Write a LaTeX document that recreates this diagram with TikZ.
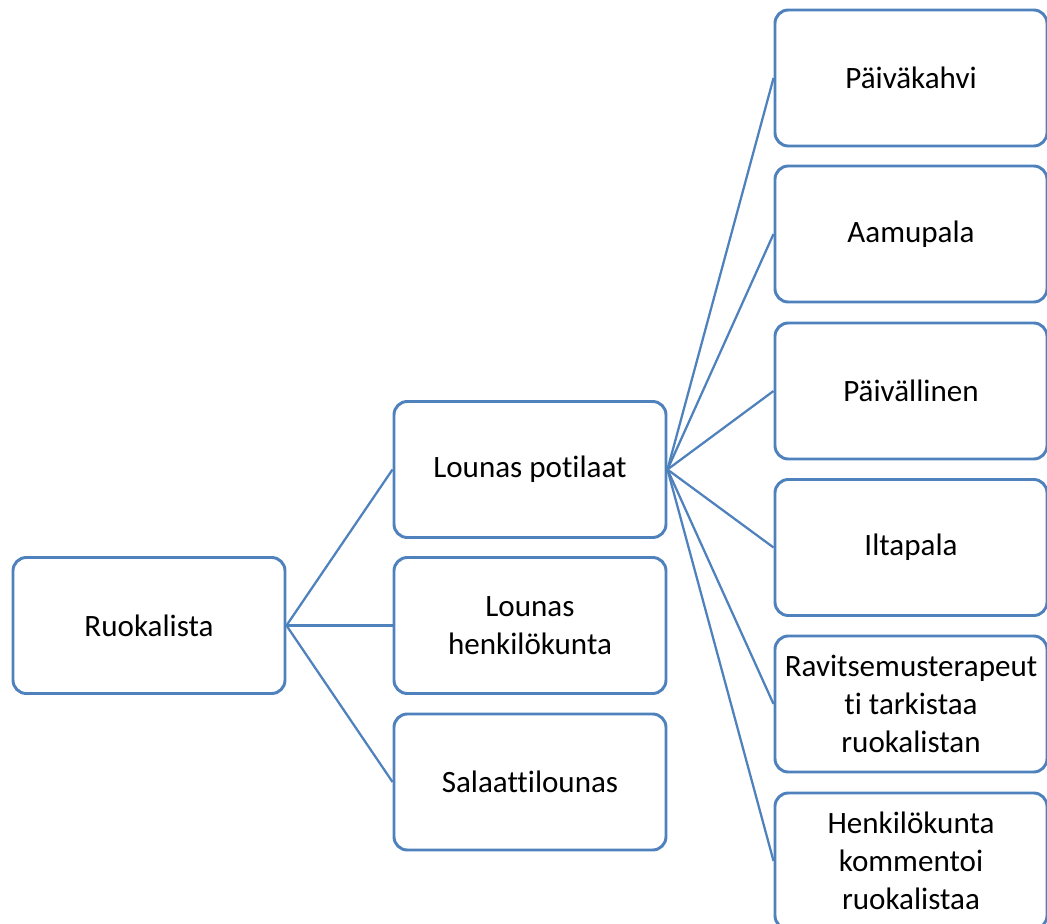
\documentclass[tikz,border=0pt]{standalone}
\usepackage{fontspec}
\setmainfont[Ligatures=NoCommon]{Carlito}
\definecolor{boxblue}{HTML}{4F81BD}
\begin{document}
\begin{tikzpicture}[x=0.75pt,y=-0.75pt,
  card/.style={draw=boxblue, line width=2.2pt, rounded corners=10pt, fill=white,
    minimum width=204pt, minimum height=102pt, inner sep=0pt, align=center,
    font=\fontsize{23.3}{28.5}\selectfont},
  link/.style={draw=boxblue, line width=1.7pt}]
\useasboundingbox (0,0) rectangle (1047,924);
% root
\node[card] (root) at (149,625.5) {Ruokalista};
% second level
\node[card] (lp) at (530,469.5) {Lounas potilaat};
\node[card] (lh) at (530,625.5) {Lounas\\henkilökunta};
\node[card] (sl) at (530,782) {Salaattilounas};
% third level
\node[card] (c1) at (911,78) {Päiväkahvi};
\node[card] (c2) at (911,234) {Aamupala};
\node[card] (c3) at (911,391) {Päivällinen};
\node[card] (c4) at (911,547.5) {Iltapala};
\node[card] (c5) at (911,704) {Ravitsemusterapeut\\ti tarkistaa\\ruokalistan};
\node[card] (c6) at (911,861) {Henkilökunta\\kommentoi\\ruokalistaa};
% connectors
\foreach \t in {lp,lh,sl} \draw[link] (root.east) -- (\t.west);
\foreach \t in {c1,c2,c3,c4,c5,c6} \draw[link] (lp.east) -- (\t.west);
\end{tikzpicture}
\end{document}
